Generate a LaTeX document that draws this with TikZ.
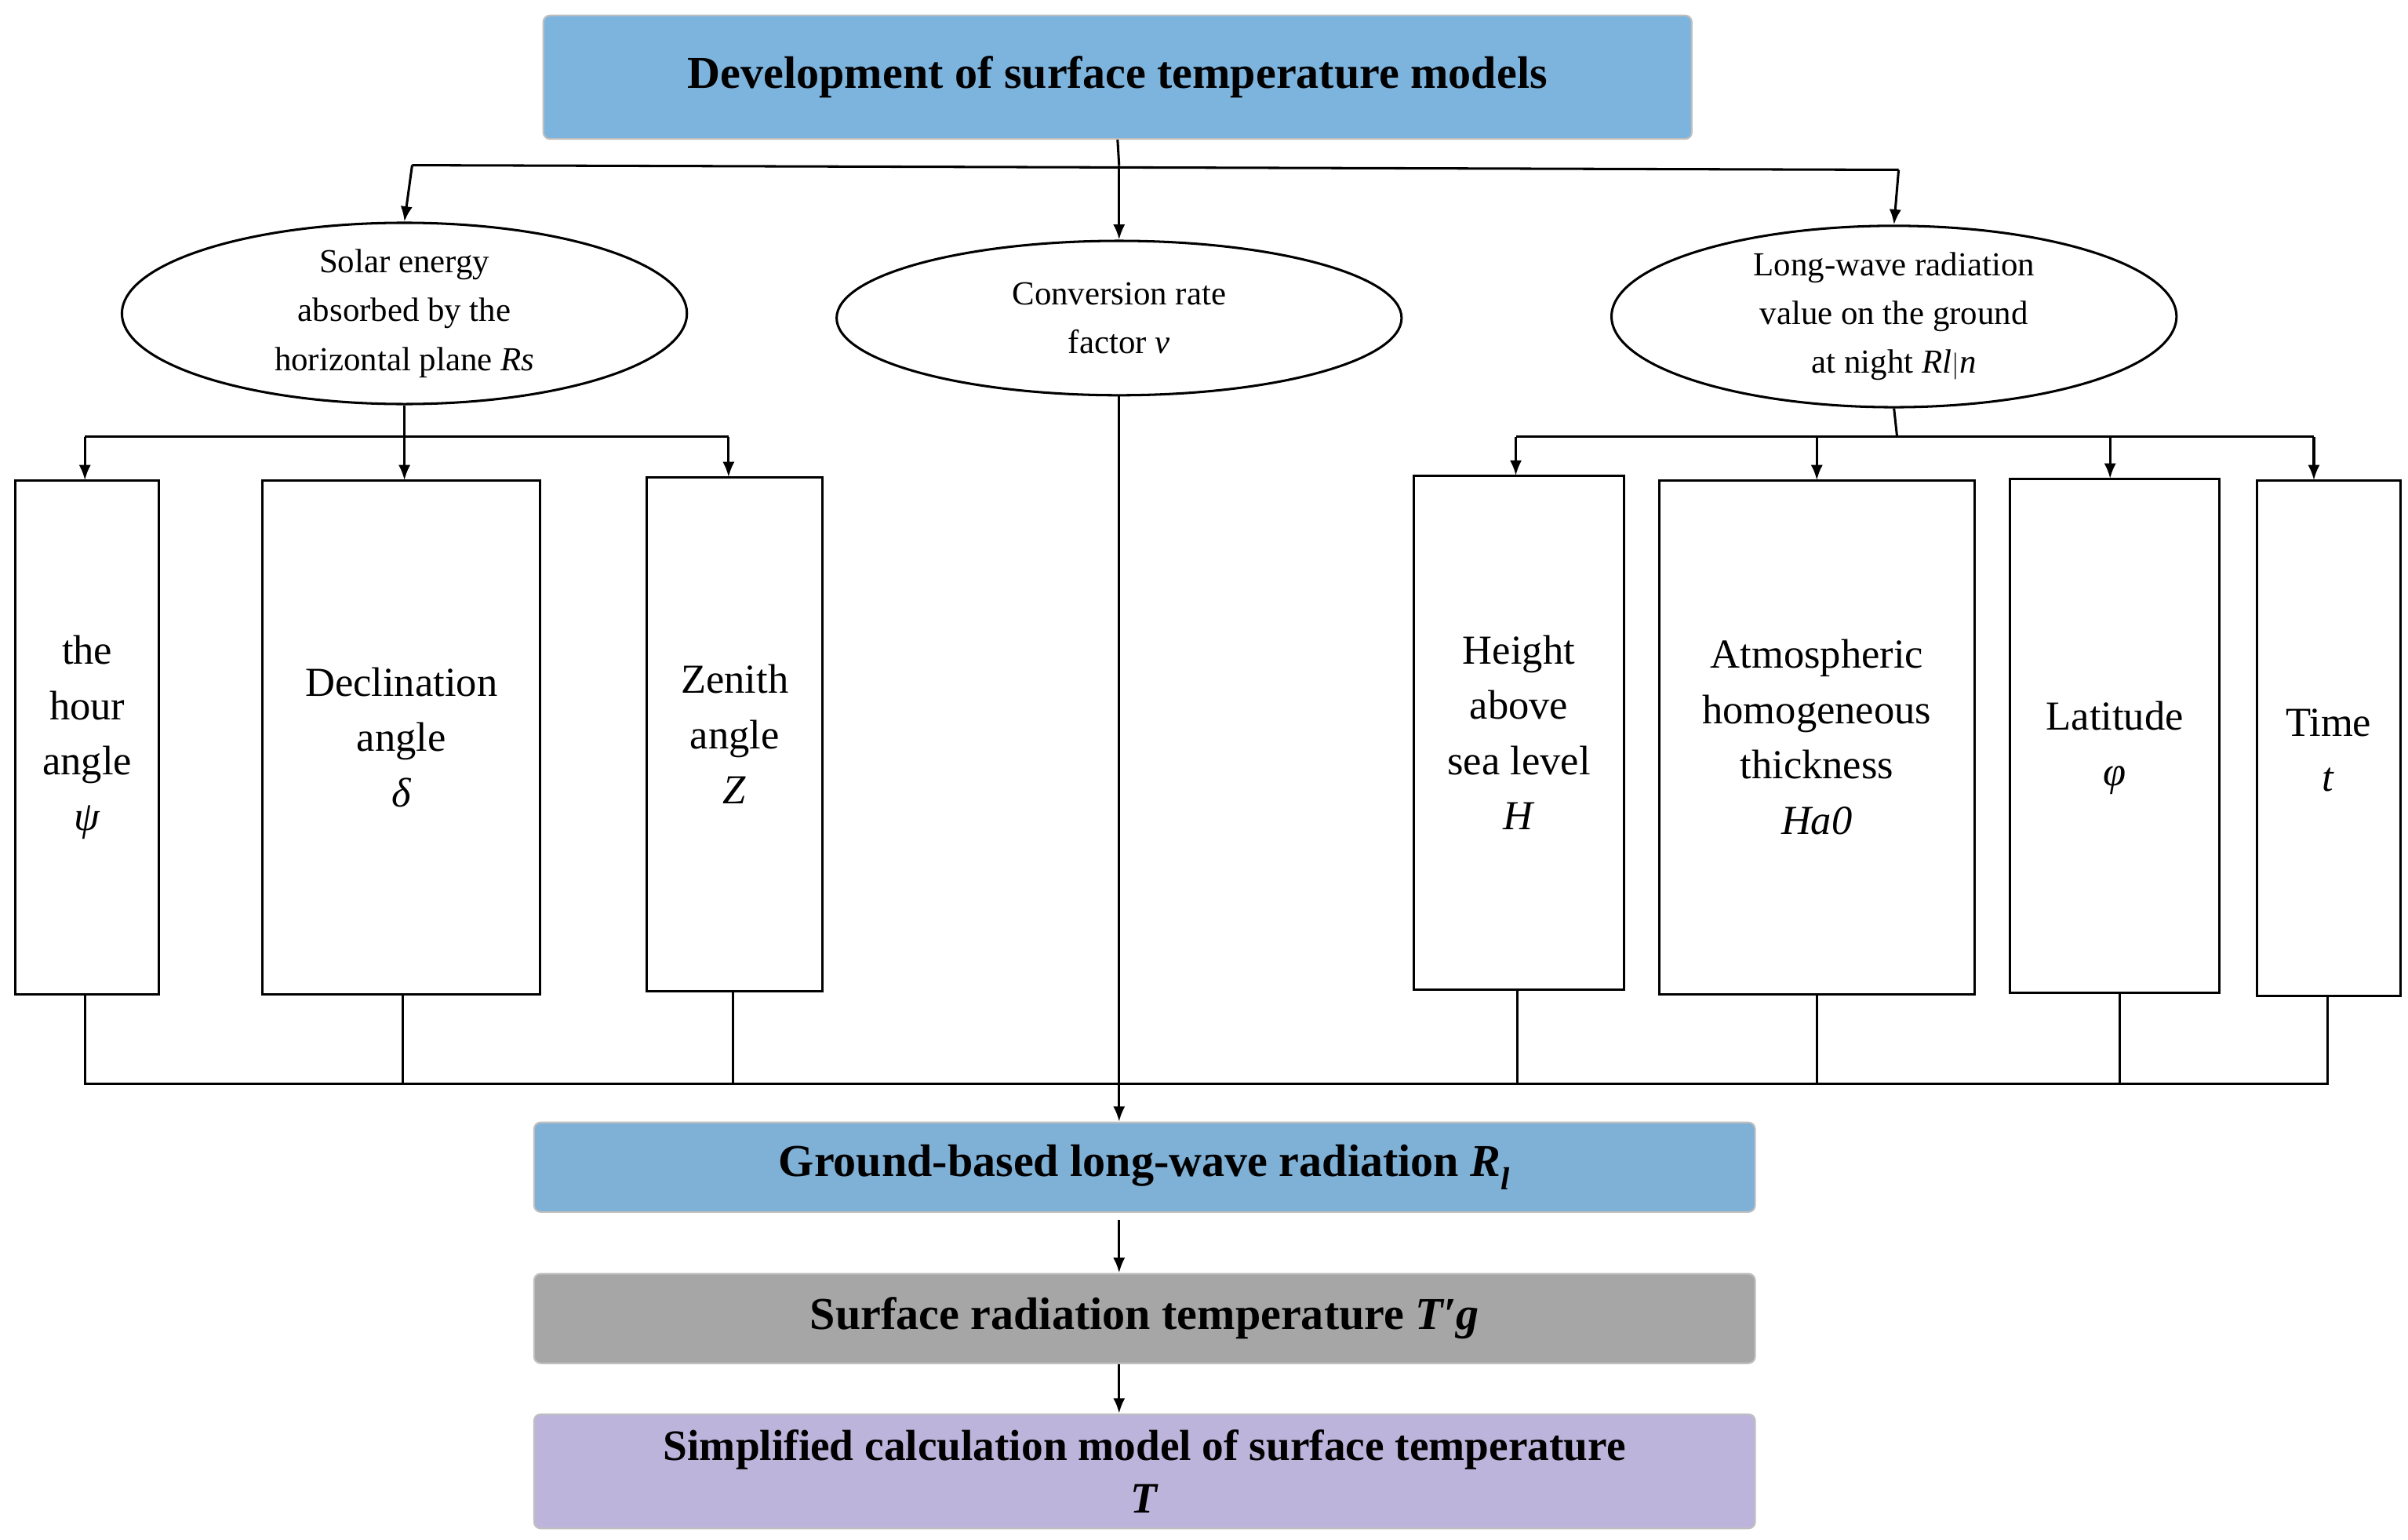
\documentclass[tikz,border=0pt]{standalone}
\usepackage{fontspec}
\setmainfont{Liberation Serif}
\usetikzlibrary{arrows.meta,shapes.geometric}
\begin{document}
\begin{tikzpicture}[x=0.05cm,y=-0.05cm,
 ln/.style={line width=2.2pt},
 ar/.style={ln,-{Latex[length=14pt,width=11pt]}},
 bx/.style={draw,line width=2.2pt,inner sep=0},
 big/.style={draw=black!25,line width=1.5pt,rounded corners=6pt,inner sep=0,font=\fontsize{42}{50}\selectfont\bfseries},
 el/.style={draw,ellipse,line width=2.2pt,minimum width=366*0.05cm,minimum height=100*0.05cm,inner sep=0,align=center,font=\fontsize{31}{45}\selectfont},
 tx/.style={align=center,font=\fontsize{38}{51}\selectfont}]
\useasboundingbox (0,0) rectangle (1560,997);
\definecolor{tb}{RGB}{125,180,222}
\definecolor{gb}{RGB}{127,176,214}
\definecolor{gr}{RGB}{166,166,166}
\definecolor{pu}{RGB}{189,180,219}
\node[big,fill=tb,minimum width=744*0.05cm,minimum height=80*0.05cm] (top) at (724,50) {Development of surface temperature models};
\node[el] (e1) at (262,203) {Solar energy\\absorbed by the\\horizontal plane \textit{Rs}};
\node[el] (e2) at (725,206) {Conversion rate\\factor \textit{v}};
\node[el] (e3) at (1227,205) {Long-wave radiation\\value on the ground\\at night \textit{Rl}$|$\textit{n}};
\coordinate (t0) at (725,107);
\draw[ln] (top.south) -- (t0);
\draw[ln] (267,107) -- (1230,110);
\draw[ar] (267,107) -- (e1.north);
\draw[ar] (t0) -- (e2.north);
\draw[ar] (1230,110) -- (e3.north);
% boxes
\draw[bx] (10,311) rectangle (103,644) node[tx,midway] (b1) {the\\hour\\angle\\\textit{ψ}};
\draw[bx] (170,311) rectangle (350,644) node[tx,midway] (b2) {Declination\\angle\\\textit{δ}};
\draw[bx] (419,309) rectangle (533,642) node[tx,midway] (b3) {Zenith\\angle\\\textit{Z}};
\draw[bx] (916,308) rectangle (1052,641) node[tx,midway] (b4) {Height\\above\\sea level\\\textit{H}};
\draw[bx] (1075,311) rectangle (1279,644) node[tx,midway] (b5) {Atmospheric\\homogeneous\\thickness\\\textit{Ha0}};
\draw[bx] (1302,310) rectangle (1438,643) node[tx,midway,yshift=-0.4cm] (b6) {Latitude\\\textit{φ}};
\draw[bx] (1462,311) rectangle (1555,645) node[tx,midway,yshift=-0.4cm] (b7) {Time\\\textit{t}};
% left tree
\draw[ln] (e1.south) -- (262,283);
\draw[ln] (55,283) -- (472,283);
\draw[ar] (55,283) -- (55,311);
\draw[ar] (262,283) -- (262,311);
\draw[ar] (472,283) -- (472,309);
% right tree
\draw[ln] (e3.south) -- (1229,283);
\draw[ln] (982,283) -- (1499,283);
\draw[ar] (982,283) -- (982,308);
\draw[ar] (1177,283) -- (1177,311);
\draw[ar] (1367,283) -- (1367,310);
\draw[ar] (1499,283) -- (1499,311);
% bottom collection
\draw[ln] (55,644) -- (55,702) -- (1508,702) -- (1508,645);
\draw[ln] (261,644) -- (261,702);
\draw[ln] (475,642) -- (475,702);
\draw[ln] (983,641) -- (983,702);
\draw[ln] (1177,644) -- (1177,702);
\draw[ln] (1373,643) -- (1373,702);
\node[big,fill=gb,minimum width=791*0.05cm,minimum height=58*0.05cm] (g) at (741.5,756) {Ground-based long-wave radiation \textit{R}\textsubscript{\textit{l}}};
\draw[ar] (e2.south) -- (e2.south |- g.north);
\node[big,fill=gr,minimum width=791*0.05cm,minimum height=58*0.05cm] (s) at (741.5,854) {Surface radiation temperature \textit{T′g}};
\node[big,fill=pu,minimum width=791*0.05cm,minimum height=74*0.05cm,align=center,font=\fontsize{40}{48}\selectfont\bfseries] (m) at (741.5,953) {Simplified calculation model of surface temperature\\\textit{T}};
\coordinate (c1) at (725,790);
\draw[ar] (c1) -- (c1 |- s.north);
\draw[ar] (c1 |- s.south) -- (c1 |- m.north);
\end{tikzpicture}
\end{document}
